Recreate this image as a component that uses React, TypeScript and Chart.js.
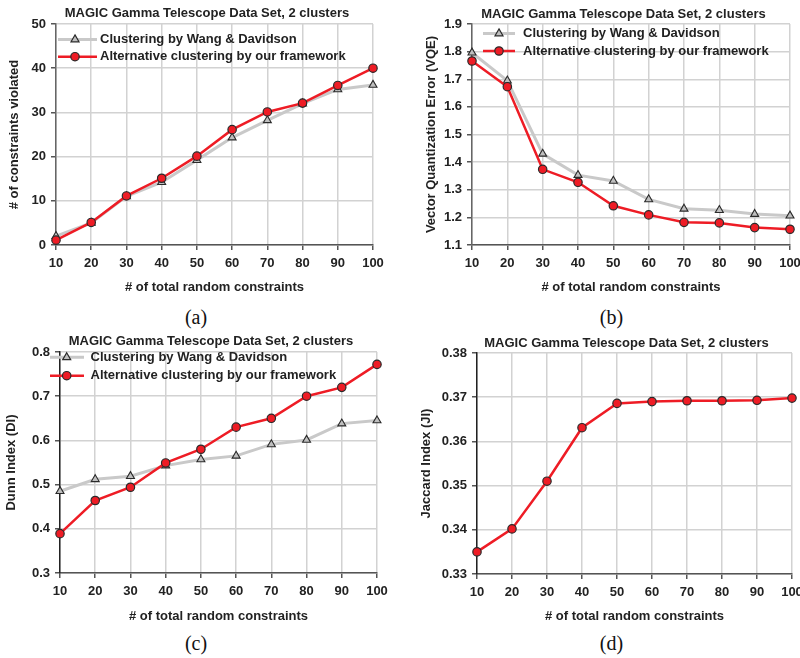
import React, { useEffect, useRef } from 'react';
import { Chart, registerables } from 'chart.js';

Chart.register(...registerables);

const FONT = '"Liberation Sans", Arial, Helvetica, sans-serif';
const TEXT = '#222';

// ---------- data ----------
const xLabels = ['10', '20', '30', '40', '50', '60', '70', '80', '90', '100'];
const chartTitle = 'MAGIC Gamma Telescope Data Set, 2 clusters';
const xTitle = '# of total random constraints';
const seriesWang = 'Clustering by Wang & Davidson';
const seriesOurs = 'Alternative clustering by our framework';

const violatedWang = [2, 5, 11, 14.2, 19.2, 24.3, 28.2, 32, 35.2, 36.2];
const violatedOurs = [1.1, 5.1, 11.1, 15.1, 20.1, 26.1, 30.1, 32.1, 36.1, 40];

const vqeWang = [1.796, 1.695, 1.43, 1.353, 1.332, 1.265, 1.231, 1.226, 1.212, 1.206];
const vqeOurs = [1.766, 1.673, 1.374, 1.327, 1.242, 1.209, 1.182, 1.18, 1.163, 1.157];

const dunnWang = [0.485, 0.512, 0.519, 0.543, 0.557, 0.565, 0.591, 0.601, 0.638, 0.645];
const dunnOurs = [0.389, 0.464, 0.494, 0.549, 0.58, 0.63, 0.65, 0.7, 0.72, 0.772];

const jaccardOurs = [0.335, 0.3402, 0.351, 0.3631, 0.3686, 0.369, 0.3692, 0.3692, 0.3693, 0.3698];

// ---------- styles ----------
const GRAY_LINE = '#c9c9c9';
const GRAY_FILL = '#bfbfbf';
const RED = '#ee1c25';
const EDGE = '#2a2a2a';

const decor = {
  id: 'decor',
  afterDraw(chart: any, _args: any, opts: any) {
    const ctx = chart.ctx as CanvasRenderingContext2D;
    ctx.save();
    ctx.font = `bold 13px ${FONT}`;
    ctx.fillStyle = TEXT;
    ctx.textAlign = 'center';
    ctx.textBaseline = 'middle';
    ctx.fillText(opts.title, opts.titleX, opts.titleY);
    if (opts.legend) {
      const lg = opts.legend;
      lg.items.forEach((it: any, i: number) => {
        const y = lg.ys[i];
        ctx.strokeStyle = it.line;
        ctx.lineWidth = it.lineWidth;
        ctx.beginPath();
        ctx.moveTo(lg.x0, y);
        ctx.lineTo(lg.x1, y);
        ctx.stroke();
        const cx = lg.mx;
        ctx.fillStyle = it.fill;
        ctx.strokeStyle = EDGE;
        ctx.lineWidth = 1.2;
        ctx.beginPath();
        if (it.style === 'triangle') {
          const r = it.r;
          let rad = 0;
          ctx.moveTo(cx + Math.sin(rad) * r, y - Math.cos(rad) * r);
          rad += (Math.PI * 2) / 3;
          ctx.lineTo(cx + Math.sin(rad) * r, y - Math.cos(rad) * r);
          rad += (Math.PI * 2) / 3;
          ctx.lineTo(cx + Math.sin(rad) * r, y - Math.cos(rad) * r);
          ctx.closePath();
        } else {
          ctx.arc(cx, y, it.r, 0, Math.PI * 2);
        }
        ctx.fill();
        ctx.stroke();
        ctx.fillStyle = TEXT;
        ctx.textAlign = 'left';
        ctx.textBaseline = 'middle';
        ctx.font = `bold 13px ${FONT}`;
        ctx.fillText(it.label, lg.textX, y);
      });
    }
    ctx.restore();
  },
};

function wangDataset(data: number[]) {
  return {
    label: seriesWang,
    data,
    borderColor: GRAY_LINE,
    borderWidth: 3,
    pointStyle: 'triangle',
    pointRadius: 4.6,
    pointBackgroundColor: GRAY_FILL,
    pointBorderColor: EDGE,
    pointBorderWidth: 1.1,
    tension: 0,
    order: 1,
  };
}

function oursDataset(data: number[]) {
  return {
    label: seriesOurs,
    data,
    borderColor: RED,
    borderWidth: 2.5,
    pointStyle: 'circle',
    pointRadius: 4.2,
    pointBackgroundColor: RED,
    pointBorderColor: EDGE,
    pointBorderWidth: 1.2,
    tension: 0,
    order: 0,
  };
}

const legendItems = [
  { label: seriesWang, line: GRAY_LINE, lineWidth: 3, style: 'triangle', fill: GRAY_FILL, r: 4.6 },
  { label: seriesOurs, line: RED, lineWidth: 2.5, style: 'circle', fill: RED, r: 4.2 },
];

type PanelProps = {
  left: number;
  top: number;
  area: { l: number; r: number; t: number; b: number };
  datasets: any[];
  yMin: number;
  yMax: number;
  yStep: number;
  yDigits: number;
  yTitle: string;
  yTitlePad: number;
  yBorder: string;
  titleX: number;
  titleY: number;
  legend?: any;
};

const W = 400;
const H = 300;

function Panel(p: PanelProps) {
  const ref = useRef<HTMLCanvasElement>(null);
  useEffect(() => {
    const chart = new Chart(ref.current as HTMLCanvasElement, {
      type: 'line',
      data: { labels: xLabels, datasets: p.datasets },
      plugins: [decor as any],
      options: {
        responsive: false,
        animation: false,
        devicePixelRatio: 1,
        layout: { padding: { top: p.area.t, right: W - p.area.r, bottom: 0, left: 0 } },
        plugins: {
          legend: { display: false },
          title: { display: false },
          tooltip: { enabled: false },
          decor: { title: chartTitle, titleX: p.titleX, titleY: p.titleY, legend: p.legend },
        } as any,
        scales: {
          x: {
            type: 'category',
            offset: false,
            grid: { color: '#d2d2d2', lineWidth: 1.5, tickLength: 5, tickColor: '#555', drawTicks: true },
            border: { display: true, color: '#555', width: 1.5 },
            ticks: {
              autoSkip: false,
              maxRotation: 0,
              padding: 6,
              color: TEXT,
              font: { family: FONT, size: 13, weight: 'bold' },
            },
            title: {
              display: true,
              text: xTitle,
              color: TEXT,
              font: { family: FONT, size: 13, weight: 'bold' },
              padding: { top: 0, bottom: 5 },
            },
            afterFit: (s: any) => {
              s.height = H - p.area.b;
              s.paddingLeft = 0;
              s.paddingRight = 0;
            },
          },
          y: {
            type: 'linear',
            min: p.yMin,
            max: p.yMax,
            grid: { color: '#d2d2d2', lineWidth: 1.5, tickLength: 5, tickColor: '#555', drawTicks: true },
            border: { display: true, color: p.yBorder, width: 1.5 },
            ticks: {
              stepSize: p.yStep,
              padding: 5,
              color: TEXT,
              font: { family: FONT, size: 13, weight: 'bold' },
              callback: (v: any) => Number(v).toFixed(p.yDigits),
            },
            title: {
              display: true,
              text: p.yTitle,
              color: TEXT,
              font: { family: FONT, size: 13, weight: 'bold' },
              padding: { top: p.yTitlePad, bottom: 0 },
            },
            afterFit: (s: any) => {
              s.width = p.area.l;
              s.paddingTop = 0;
              s.paddingBottom = 0;
            },
          },
        },
      } as any,
    });
    return () => chart.destroy();
  }, []);
  return (
    <canvas
      ref={ref}
      width={W}
      height={H}
      style={{ position: 'absolute', left: p.left, top: p.top, width: W, height: H }}
    />
  );
}

function Caption({ text, cx, cy }: { text: string; cx: number; cy: number }) {
  return (
    <div
      style={{
        position: 'absolute',
        left: cx - 50,
        top: cy - 12,
        width: 100,
        height: 24,
        lineHeight: '24px',
        textAlign: 'center',
        fontFamily: '"Liberation Serif", "Times New Roman", serif',
        fontSize: 20,
        color: '#111',
      }}
    >
      {text}
    </div>
  );
}

export default function App() {
  return (
    <div
      style={{
        position: 'absolute',
        left: 0,
        top: 0,
        width: 800,
        height: 658,
        overflow: 'hidden',
        background: '#fff',
      }}
    >
      <Panel
        left={0}
        top={0}
        area={{ l: 56, r: 373, t: 24, b: 245 }}
        datasets={[wangDataset(violatedWang), oursDataset(violatedOurs)]}
        yMin={0}
        yMax={50}
        yStep={10}
        yDigits={0}
        yTitle="# of constraints violated"
        yTitlePad={7}
        yBorder="#666"
        titleX={207}
        titleY={13.5}
        legend={{ items: legendItems, x0: 58, x1: 97, mx: 75, textX: 100, ys: [39.5, 56.7] }}
      />
      <Panel
        left={400}
        top={0}
        area={{ l: 72, r: 390, t: 24, b: 245 }}
        datasets={[wangDataset(vqeWang), oursDataset(vqeOurs)]}
        yMin={1.1}
        yMax={1.9}
        yStep={0.1}
        yDigits={1}
        yTitle="Vector Quantization Error (VQE)"
        yTitlePad={24}
        yBorder="#666"
        titleX={223.5}
        titleY={14}
        legend={{ items: legendItems, x0: 83, x1: 115, mx: 99, textX: 123, ys: [33.5, 51] }}
      />
      <Panel
        left={0}
        top={329}
        area={{ l: 60, r: 377, t: 23, b: 244 }}
        datasets={[wangDataset(dunnWang), oursDataset(dunnOurs)]}
        yMin={0.3}
        yMax={0.8}
        yStep={0.1}
        yDigits={1}
        yTitle="Dunn Index (DI)"
        yTitlePad={4}
        yBorder="#222"
        titleX={211}
        titleY={12}
        legend={{ items: legendItems, x0: 50, x1: 84, mx: 66.7, textX: 90.5, ys: [28.3, 46.7] }}
      />
      <Panel
        left={400}
        top={329}
        area={{ l: 77, r: 392, t: 24, b: 245 }}
        datasets={[oursDataset(jaccardOurs)]}
        yMin={0.33}
        yMax={0.38}
        yStep={0.01}
        yDigits={2}
        yTitle="Jaccard Index (JI)"
        yTitlePad={19}
        yBorder="#222"
        titleX={226.5}
        titleY={14}
      />
      <Caption text="(a)" cx={196} cy={317} />
      <Caption text="(b)" cx={611.5} cy={317} />
      <Caption text="(c)" cx={196} cy={643} />
      <Caption text="(d)" cx={611.5} cy={643} />
    </div>
  );
}
